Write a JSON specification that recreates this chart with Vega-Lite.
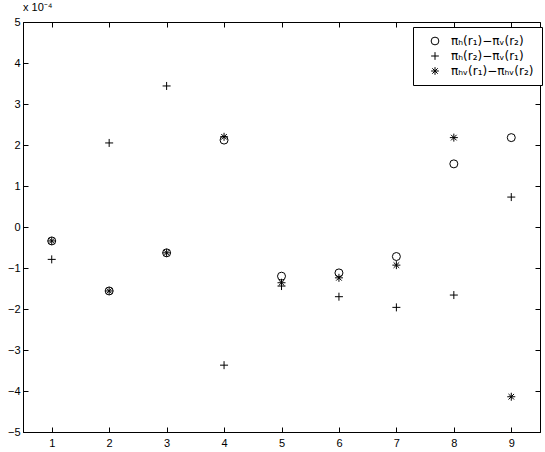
{
  "$schema": "https://vega.github.io/schema/vega-lite/v6.json",
  "autosize": {"type": "none"},
  "width": 517,
  "height": 410,
  "padding": {"left": 23, "top": 22, "right": 5, "bottom": 20},
  "background": "white",
  "title": {"text": "x 10⁻⁴", "anchor": "start", "frame": "group", "offset": 3, "fontSize": 11, "fontWeight": "normal", "font": "Liberation Sans", "color": "black"},
  "config": {
    "view": {"stroke": "black", "strokeWidth": 1},
    "axis": {"grid": false, "domainColor": "black", "tickColor": "black", "labelColor": "black", "labelFont": "Liberation Sans", "labelFontSize": 11, "tickSize": -5, "domainWidth": 1, "tickWidth": 1}
  },
  "data": {"values": [
    {"x": 1, "y": -0.34, "series": "πₕ(r₁)−πᵥ(r₂)"},
    {"x": 2, "y": -1.56, "series": "πₕ(r₁)−πᵥ(r₂)"},
    {"x": 3, "y": -0.63, "series": "πₕ(r₁)−πᵥ(r₂)"},
    {"x": 4, "y": 2.12, "series": "πₕ(r₁)−πᵥ(r₂)"},
    {"x": 5, "y": -1.2, "series": "πₕ(r₁)−πᵥ(r₂)"},
    {"x": 6, "y": -1.12, "series": "πₕ(r₁)−πᵥ(r₂)"},
    {"x": 7, "y": -0.72, "series": "πₕ(r₁)−πᵥ(r₂)"},
    {"x": 8, "y": 1.54, "series": "πₕ(r₁)−πᵥ(r₂)"},
    {"x": 9, "y": 2.18, "series": "πₕ(r₁)−πᵥ(r₂)"},
    {"x": 1, "y": -0.79, "series": "πₕ(r₂)−πᵥ(r₁)"},
    {"x": 2, "y": 2.05, "series": "πₕ(r₂)−πᵥ(r₁)"},
    {"x": 3, "y": 3.44, "series": "πₕ(r₂)−πᵥ(r₁)"},
    {"x": 4, "y": -3.37, "series": "πₕ(r₂)−πᵥ(r₁)"},
    {"x": 5, "y": -1.44, "series": "πₕ(r₂)−πᵥ(r₁)"},
    {"x": 6, "y": -1.7, "series": "πₕ(r₂)−πᵥ(r₁)"},
    {"x": 7, "y": -1.96, "series": "πₕ(r₂)−πᵥ(r₁)"},
    {"x": 8, "y": -1.66, "series": "πₕ(r₂)−πᵥ(r₁)"},
    {"x": 9, "y": 0.73, "series": "πₕ(r₂)−πᵥ(r₁)"},
    {"x": 1, "y": -0.34, "series": "πₕᵥ(r₁)−πₕᵥ(r₂)"},
    {"x": 2, "y": -1.56, "series": "πₕᵥ(r₁)−πₕᵥ(r₂)"},
    {"x": 3, "y": -0.63, "series": "πₕᵥ(r₁)−πₕᵥ(r₂)"},
    {"x": 4, "y": 2.2, "series": "πₕᵥ(r₁)−πₕᵥ(r₂)"},
    {"x": 5, "y": -1.36, "series": "πₕᵥ(r₁)−πₕᵥ(r₂)"},
    {"x": 6, "y": -1.24, "series": "πₕᵥ(r₁)−πₕᵥ(r₂)"},
    {"x": 7, "y": -0.93, "series": "πₕᵥ(r₁)−πₕᵥ(r₂)"},
    {"x": 8, "y": 2.18, "series": "πₕᵥ(r₁)−πₕᵥ(r₂)"},
    {"x": 9, "y": -4.14, "series": "πₕᵥ(r₁)−πₕᵥ(r₂)"}
  ]},
  "layer": [
    {
      "mark": {"type": "point", "filled": false, "color": "black", "strokeWidth": 1, "opacity": 1},
      "encoding": {
        "x": {"field": "x", "type": "quantitative", "scale": {"domain": [0.5, 9.5], "nice": false, "zero": false}, "axis": {"orient": "bottom", "title": null, "values": [1,2,3,4,5,6,7,8,9], "labelPadding": 10}},
        "y": {"field": "y", "type": "quantitative", "scale": {"domain": [-5, 5], "nice": false, "zero": false}, "axis": {"orient": "left", "title": null, "values": [-5,-4,-3,-2,-1,0,1,2,3,4,5], "labelPadding": 8}},
        "shape": {"field": "series", "type": "nominal",
          "scale": {"domain": ["πₕ(r₁)−πᵥ(r₂)", "πₕ(r₂)−πᵥ(r₁)", "πₕᵥ(r₁)−πₕᵥ(r₂)"],
                    "range": ["circle", "M-1,0L1,0M0,-1L0,1", "M-1,0L1,0M0,-1L0,1M-0.7,-0.7L0.7,0.7M-0.7,0.7L0.7,-0.7"]},
          "legend": {"title": null, "orient": "none", "legendX": 390, "legendY": 5, "strokeColor": "black", "fillColor": "white", "padding": 8, "labelFont": "DejaVu Sans", "labelFontSize": 12, "labelColor": "black", "symbolStrokeColor": "black", "symbolFillColor": "transparent", "symbolSize": 60, "symbolStrokeWidth": 1, "labelOffset": 10, "rowPadding": 3, "symbolOffset": 8, "labelLimit": 200}
        },
        "size": {"value": 64}
      }
    },
    {
      "mark": {"type": "point", "opacity": 0},
      "encoding": {
        "x": {"field": "x", "type": "quantitative", "axis": {"orient": "top", "title": null, "labels": false, "domain": false, "values": [1,2,3,4,5,6,7,8,9]}},
        "y": {"field": "y", "type": "quantitative", "axis": {"orient": "right", "title": null, "labels": false, "domain": false, "values": [-5,-4,-3,-2,-1,0,1,2,3,4,5]}}
      }
    }
  ],
  "resolve": {"axis": {"x": "independent", "y": "independent"}}
}
